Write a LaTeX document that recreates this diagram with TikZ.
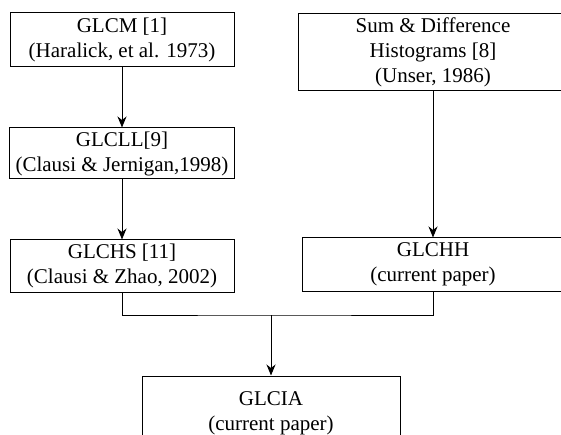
\documentclass[tikz,border=0pt]{standalone}
\usepackage{fontspec}
\setmainfont{Liberation Serif}
\usetikzlibrary{arrows.meta}
\tikzset{
  blocco/.style={draw, line width=1pt, align=center, inner sep=0pt,
    font=\fontsize{21}{25}\selectfont},
  freccia/.style={line width=1pt, -{Stealth[length=11pt,width=9pt,inset=3.5pt]}}
}
\begin{document}
\begin{tikzpicture}[x=1pt,y=-1pt]
  \clip (0,0) rectangle (561,435);
  % Blocchi a sinistra
  \node[blocco, minimum width=224pt, minimum height=54pt] (glcm) at (122,39.5)
    {GLCM [1]\\(Haralick, et al. 1973)};
  \node[blocco, minimum width=225pt, minimum height=51pt] (glcll) at (122,153.5)
    {GLCLL[9]\\(Clausi \& Jernigan,1998)};
  \node[blocco, minimum width=224pt, minimum height=52pt] (glchs) at (122,266)
    {GLCHS [11]\\(Clausi \& Zhao, 2002)};
  % Blocchi a destra
  \node[blocco, minimum width=270pt, minimum height=77pt] (sdh) at (433,52.5)
    {Sum \& Difference\\Histograms [8]\\(Unser, 1986)};
  \node[blocco, minimum width=262pt, minimum height=53pt] (glchh) at (433,264.5)
    {GLCHH\\(current paper)};
  % Blocco finale
  \node[blocco, minimum width=258pt, minimum height=74pt] (glcia) at (271,413)
    {GLCIA\\(current paper)};

  % Collegamenti
  \draw[freccia] (glcm) -- (glcll);
  \draw[freccia] (glcll) -- (glchs);
  \draw[freccia] (sdh) -- (glchh);
  \coordinate (unione) at (271,315);
  \draw[line width=1pt] (glchs.south) |- (unione) -| (glchh.south);
  \draw[freccia] (unione) -- (glcia.north);
\end{tikzpicture}
\end{document}
